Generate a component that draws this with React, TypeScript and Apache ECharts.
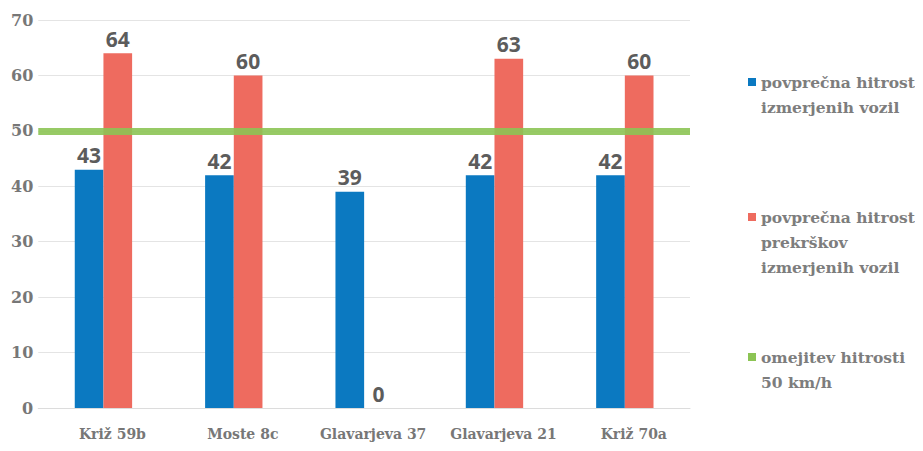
import React, { useEffect, useRef } from "react";
import * as echarts from "echarts";

const categories = ["Križ 59b", "Moste 8c", "Glavarjeva 37", "Glavarjeva 21", "Križ 70a"];
const avgSpeed = [43, 42, 39, 42, 42];
const avgOffenderSpeed = [64, 60, 0, 63, 60];
const speedLimit = 50;
const seriesNames = [
  "povprečna hitrost izmerjenih vozil",
  "povprečna hitrost prekrškov izmerjenih vozil",
  "omejitev hitrosti 50 km/h",
];
const legendLines = [
  ["povprečna hitrost", "izmerjenih vozil"],
  ["povprečna hitrost", "prekrškov", "izmerjenih vozil"],
  ["omejitev hitrosti", "50 km/h"],
];

const serif = "'DejaVu Serif', serif";
const axisGray = "#777777";
const labelGray = "#5c5c5c";
const LH = 25;

export default function App() {
  const ref = useRef<HTMLDivElement>(null);
  useEffect(() => {
    const chart = echarts.init(ref.current!, null, { renderer: "svg" });
    const legendText = {
      fontFamily: serif,
      fontWeight: "bold",
      fontSize: 15.5,
      color: "#7d7d7d",
      lineHeight: LH,
    };
    // icon sits on the first text line: pad blank lines before the text
    const mkLegend = (i: number, iconCenterY: number) => {
      const lines = legendLines[i];
      const padded = Array(lines.length - 1).fill("").concat(lines);
      const h = padded.length * LH;
      return {
        data: [seriesNames[i]],
        orient: "vertical",
        left: 740,
        top: iconCenterY - h / 2,
        padding: 0,
        itemWidth: 8,
        itemHeight: 8,
        icon: "rect",
        formatter: () => padded.join("\n"),
        textStyle: legendText,
        selectedMode: false,
      };
    };
    const dataLabel = {
      show: true,
      position: "top",
      distance: 4,
      fontFamily: "'Open Sans', sans-serif",
      fontWeight: "bold",
      fontSize: 21,
      color: labelGray,
    };
    chart.setOption({
      animation: false,
      backgroundColor: "#ffffff",
      grid: { left: 25, right: 225, top: 12, bottom: 35 },
      legend: [mkLegend(0, 74), mkLegend(1, 209), mkLegend(2, 349)],
      xAxis: {
        type: "category",
        data: categories,
        axisTick: { show: false },
        axisLine: { lineStyle: { color: "#dcdcdc" } },
        axisLabel: {
          fontFamily: serif,
          fontWeight: "bold",
          fontSize: 14,
          color: axisGray,
          margin: 19,
          interval: 0,
          padding: [0, 0, 0, 18],
        },
      },
      yAxis: {
        type: "value",
        min: 0,
        max: 70,
        interval: 10,
        axisLabel: {
          fontFamily: serif,
          fontWeight: "bold",
          fontSize: 16,
          color: axisGray,
          margin: 5,
        },
        splitLine: { lineStyle: { color: "#e4e4e4" } },
      },
      series: [
        {
          name: seriesNames[0],
          type: "bar",
          data: avgSpeed,
          barGap: "0%",
          barCategoryGap: "56%",
          itemStyle: { color: "#0b79c1" },
          label: dataLabel,
        },
        {
          name: seriesNames[1],
          type: "bar",
          data: avgOffenderSpeed,
          itemStyle: { color: "#ee6b5f" },
          label: dataLabel,
        },
        {
          name: seriesNames[2],
          type: "line",
          data: [],
          itemStyle: { color: "#8cc454" },
          lineStyle: { color: "#8cc454" },
          markLine: {
            symbol: "none",
            silent: true,
            label: { show: false },
            lineStyle: { color: "#8cc454", width: 7, type: "solid", opacity: 0.9 },
            data: [{ yAxis: speedLimit }],
          },
        },
      ],
    });
    return () => chart.dispose();
  }, []);
  return <div ref={ref} style={{ width: 907, height: 435 }} />;
}
